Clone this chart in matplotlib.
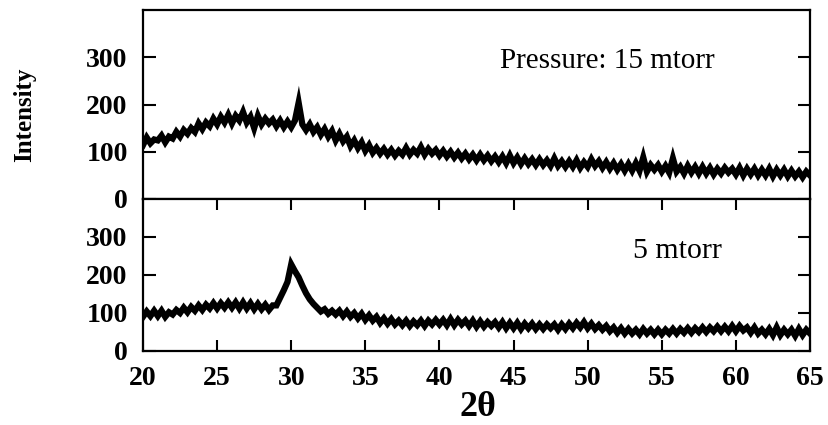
import numpy as np
import matplotlib
matplotlib.use("Agg")
import matplotlib.pyplot as plt

# 2-theta grid, 0.25 deg steps (20 .. 65)
two_theta = np.arange(20.0, 65.01, 0.25)

# intensity, 15 mtorr (top panel)
int_15mtorr = [
    114, 130, 118, 126, 124, 134, 120, 132, 128, 142, 132, 146,
    138, 150, 142, 160, 148, 162, 154, 170, 158, 174, 162, 178,
    160, 176, 166, 184, 162, 174, 150, 176, 158, 170, 160, 168,
    154, 166, 152, 164, 152, 166, 204, 158, 146, 158, 142, 152,
    136, 148, 132, 144, 124, 138, 122, 132, 112, 124, 108, 120,
    102, 114, 98, 108, 96, 106, 94, 104, 92, 102, 94, 108,
    94, 104, 96, 110, 94, 106, 96, 104, 92, 102, 90, 100,
    88, 98, 86, 96, 84, 94, 82, 94, 82, 92, 80, 90,
    78, 90, 76, 92, 76, 88, 74, 86, 74, 84, 72, 84,
    72, 82, 70, 86, 70, 80, 68, 80, 68, 82, 66, 78,
    68, 84, 70, 80, 66, 78, 64, 76, 62, 74, 60, 74,
    60, 76, 60, 88, 58, 72, 62, 72, 58, 70, 56, 86,
    58, 68, 54, 70, 56, 68, 54, 68, 54, 66, 52, 64,
    54, 66, 56, 64, 52, 66, 50, 64, 52, 64, 50, 62,
    50, 64, 48, 62, 50, 62, 48, 60, 48, 58, 46, 58,
    50,
]

# intensity, 5 mtorr (bottom panel)
int_5mtorr = [
    90, 104, 92, 106, 92, 106, 90, 102, 96, 108, 100, 114,
    102, 116, 106, 120, 108, 122, 112, 126, 112, 126, 114, 128,
    114, 128, 112, 128, 112, 126, 110, 124, 110, 122, 108, 120,
    120, 140, 160, 182, 228, 210, 194, 172, 152, 136, 124, 114,
    104, 110, 98, 106, 96, 106, 92, 104, 90, 100, 86, 98,
    82, 94, 80, 90, 74, 86, 72, 84, 70, 80, 68, 80,
    66, 78, 68, 80, 66, 80, 70, 82, 70, 82, 68, 84,
    68, 82, 70, 80, 66, 80, 64, 78, 64, 76, 66, 76,
    62, 76, 60, 74, 60, 74, 58, 72, 60, 72, 58, 70,
    58, 70, 60, 70, 56, 70, 58, 72, 60, 74, 62, 76,
    60, 72, 58, 68, 56, 66, 52, 62, 48, 60, 46, 58,
    46, 56, 44, 58, 46, 56, 44, 56, 44, 56, 46, 58,
    46, 58, 48, 60, 48, 60, 50, 62, 50, 62, 52, 64,
    52, 64, 52, 66, 52, 66, 54, 62, 48, 62, 46, 56,
    44, 58, 42, 62, 42, 56, 44, 56, 40, 58, 42, 56,
    46,
]

x_ticks = [20, 25, 30, 35, 40, 45, 50, 55, 60, 65]
y_ticks = [0, 100, 200, 300]

SERIF = ["Liberation Serif", "DejaVu Serif"]

fig = plt.figure(figsize=(8.29, 4.25), dpi=100)
W, H = 829, 425
left, right = 143 / W, 810 / W
ax1 = fig.add_axes([left, 1 - 199 / H, right - left, (199 - 10) / H])
ax2 = fig.add_axes([left, 1 - 351 / H, right - left, (351 - 199) / H])

for ax, y in ((ax1, int_15mtorr), (ax2, int_5mtorr)):
    ax.plot(two_theta, y, color="black", lw=4.5, solid_joinstyle="miter")
    ax.set_xlim(20, 65)
    ax.set_ylim(0, 400)
    ax.set_xticks(x_ticks)
    ax.set_yticks(y_ticks)
    for s in ax.spines.values():
        s.set_linewidth(1.6)
    ax.tick_params(axis="y", direction="in", left=True, right=True,
                   length=9, width=1.5, pad=11)
    for lab in ax.get_yticklabels():
        lab.set_fontfamily(SERIF)
        lab.set_fontsize(20)
        lab.set_fontweight("bold")

ax1.tick_params(axis="x", bottom=False, top=False, labelbottom=False)
ax2.tick_params(axis="x", direction="in", bottom=True, top=True,
                length=8, width=1.5, pad=11)
for lab in ax2.get_xticklabels():
    lab.set_fontfamily(SERIF)
    lab.set_fontsize(20)
    lab.set_fontweight("bold")

ax1.text(500 / W, 1 - 61 / H, "Pressure: 15 mtorr", transform=fig.transFigure,
         family=SERIF, fontsize=21, ha="left", va="center")
ax2.text(633 / W, 1 - 251 / H, "5 mtorr", transform=fig.transFigure,
         family=SERIF, fontsize=21.5, ha="left", va="center")

fig.text(25 / W, 1 - 115 / H, "Intensity", rotation=90, family=SERIF,
         fontsize=18, fontweight="bold", ha="center", va="center")
fig.text(478 / W, 1 - 408 / H, "2\u03b8", family=SERIF, fontsize=26,
         fontweight="bold", ha="center", va="center")

fig.savefig("out.png", dpi=100, facecolor="white")
